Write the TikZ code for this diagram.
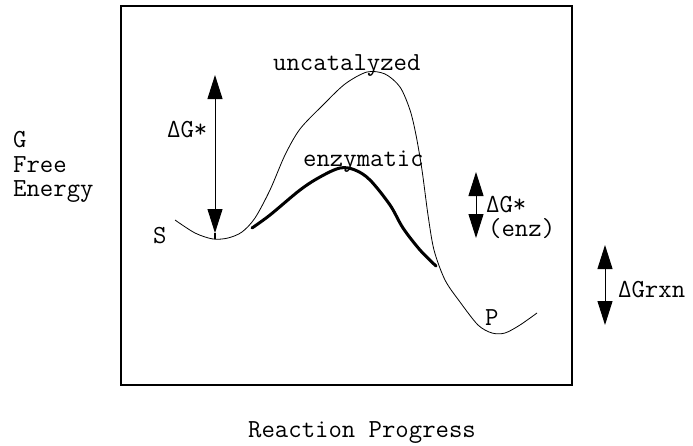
\documentclass[tikz,border=0pt]{standalone}
\usepackage{fontspec}
\usetikzlibrary{arrows.meta}
\tikzset{
  lbl/.style={anchor=base west, inner sep=0pt, font=\ttfamily\fontsize{26}{28}\selectfont},
  dblarrow/.style={line width=1pt, {Triangle[length=24pt,width=15pt]}-{Triangle[length=24pt,width=15pt]}},
  thin curve/.style={line width=0.8pt},
  thick curve/.style={line width=3pt, line join=round, line cap=round},
}
\begin{document}
\begin{tikzpicture}[x=1pt,y=-1pt]
\useasboundingbox (0,0) rectangle (693,445);
\draw[line width=1.6pt] (121,6) rectangle (572,385);
% labels
\node[lbl] (g) at (13,147) {G};
\node[lbl] (free) at (13,172) {Free};
\node[lbl] (energy) at (13,196) {Energy};
\node[lbl] (unc) at (273,70) {uncatalyzed};
\node[lbl] (enz) at (303,166) {enzymatic};
\node[lbl] (dg) at (167,137) {ΔG*};
\node[lbl] (s) at (153,243) {S};
\node[lbl] (p) at (485,325) {P};
\node[lbl] (dge) at (486,212) {ΔG*};
\node[lbl] (enzp) at (488,236) {(enz)};
\node[lbl] (dgr) at (618,297) {ΔGrxn};
\node[lbl] (rp) at (248,437) {Reaction Progress};
% curves
\draw[thin curve] plot[smooth, tension=0.5] coordinates {
 (175,220) (195,233) (213,239) (228,238) (242,232) (255,218) (270,190) (285,155)
 (300,129) (323,105) (345,84) (367,72) (385,74) (400,87) (410,110) (416,135)
 (422,170) (428,215) (434,250) (445,280) (460,302) (478,325) (492,333) (505,333)
 (520,325) (537,313)};
\draw[thick curve] plot[smooth, tension=0.55] coordinates {
 (252,228) (270,215) (300,190) (320,177) (340,168) (355,170) (370,180)
 (390,205) (403,228) (420,250) (436,266)};
% arrows
\coordinate (a1) at (215,75);
\coordinate (a2) at (215,233);
\coordinate (a3) at (215,239);
\draw[dblarrow] (a1) -- (a2);
\draw[line width=1.5pt] (a2) -- (a3);
\coordinate (b1) at (476,172);
\coordinate (b2) at (476,238);
\draw[dblarrow] (b1) -- (b2);
\coordinate (c1) at (605,245);
\coordinate (c2) at (605,325);
\draw[dblarrow] (c1) -- (c2);
\end{tikzpicture}
\end{document}
